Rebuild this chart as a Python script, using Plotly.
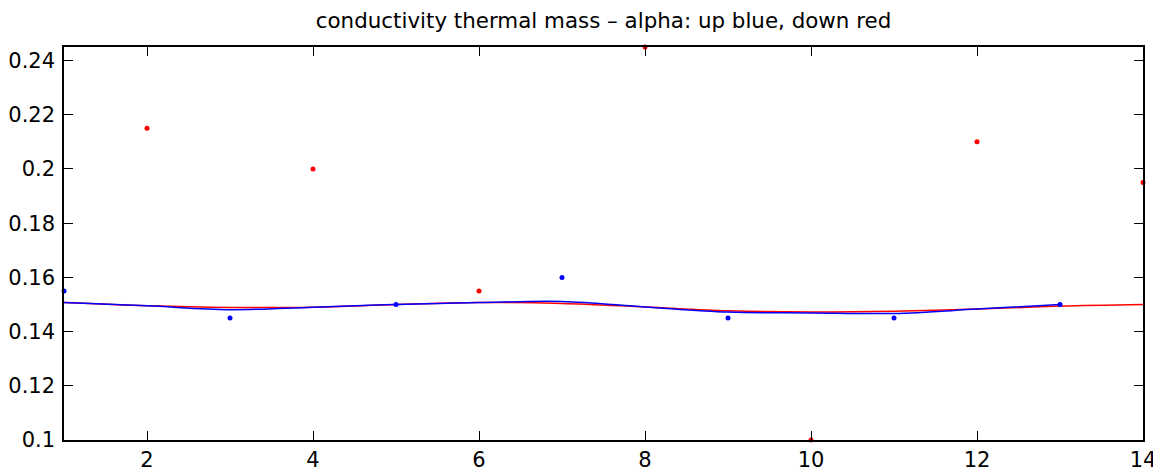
import plotly.graph_objects as go

# data
up_x = [1, 3, 5, 7, 9, 11, 13]
up_y = [0.155, 0.145, 0.150, 0.160, 0.145, 0.145, 0.150]
down_x = [2, 4, 6, 8, 10, 12, 14]
down_y = [0.215, 0.200, 0.155, 0.245, 0.100, 0.210, 0.195]

fit_x = [1, 2, 3, 4, 5, 6, 7, 8, 9, 10, 11, 12, 13, 14]
up_fit = [0.1507, 0.1495, 0.1481, 0.1490, 0.1500, 0.1507, 0.1511, 0.1491, 0.1472, 0.1469, 0.1467, 0.1483, 0.1500]
down_fit = [0.1507, 0.1495, 0.1489, 0.1490, 0.1500, 0.1507, 0.1504, 0.1491, 0.1477, 0.1472, 0.1475, 0.1483, 0.1494, 0.1500]

x_ticks = [2, 4, 6, 8, 10, 12, 14]
y_ticks = [0.1, 0.12, 0.14, 0.16, 0.18, 0.2, 0.22, 0.24]
y_labels = ["0.1", "0.12", "0.14", "0.16", "0.18", "0.2", "0.22", "0.24"]

FONT = "DejaVu Sans, Liberation Sans, Arial, sans-serif"

# page body has an 8px default margin; figure is sized to fill the rest
W, H = 1153, 467

fig = go.Figure()
fig.add_trace(go.Scatter(x=fit_x, y=down_fit, mode="lines",
                         line=dict(color="#ff0000", width=1.5, shape="spline"), showlegend=False))
fig.add_trace(go.Scatter(x=fit_x[:len(up_fit)], y=up_fit, mode="lines",
                         line=dict(color="#0000ff", width=1.5, shape="spline"), showlegend=False))
fig.add_trace(go.Scatter(x=up_x, y=up_y, mode="markers",
                         marker=dict(color="#0000ff", size=5), showlegend=False, cliponaxis=False))
fig.add_trace(go.Scatter(x=down_x, y=down_y, mode="markers",
                         marker=dict(color="#ff0000", size=5), showlegend=False, cliponaxis=False))

axis_common = dict(showgrid=False, zeroline=False, showline=True, linecolor="black",
                   linewidth=1.5, mirror="ticks", ticks="inside", ticklen=9,
                   tickcolor="black", tickwidth=1, automargin=False,
                   tickfont=dict(family=FONT, size=21, color="black"))

fig.update_layout(
    width=W, height=H,
    margin=dict(l=56, r=18, t=39, b=35),
    paper_bgcolor="white", plot_bgcolor="white",
    title=dict(text="conductivity thermal mass \u2013 alpha: up blue, down red",
               xref="paper", x=0.5, xanchor="center", y=1 - 13 / H, yanchor="middle",
               font=dict(family=FONT, size=21.4, color="black")),
    xaxis=dict(range=[1, 14], tickvals=x_ticks, ticktext=[str(v) for v in x_ticks], ticklabelstandoff=0, **axis_common),
    yaxis=dict(range=[0.1, 0.245], tickvals=y_ticks, ticktext=y_labels, ticklabelstandoff=3, **axis_common),
)

fig.write_html("out.html")
